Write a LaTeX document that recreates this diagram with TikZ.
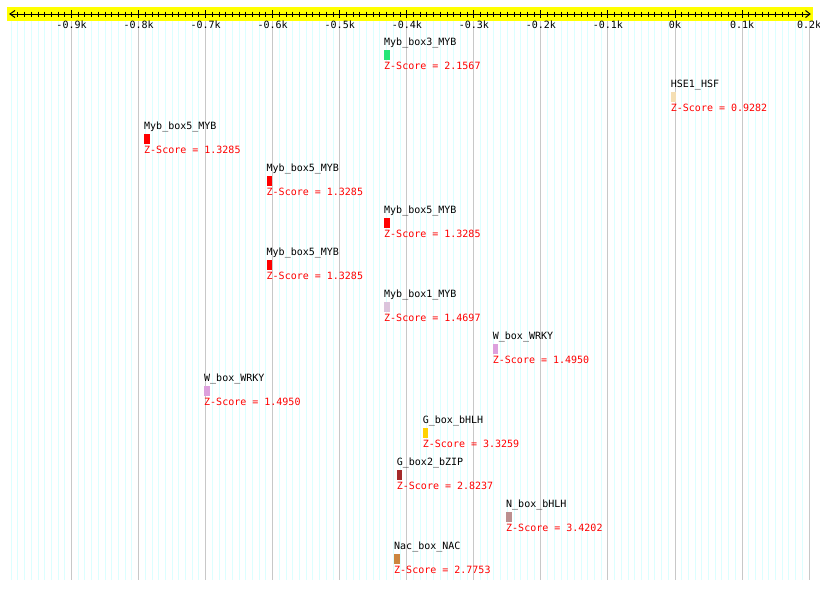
\documentclass[tikz,border=0pt]{standalone}
\usepackage{fontspec}
\setmonofont{DejaVu Sans Mono}
\definecolor{rulerYellow}{HTML}{FFFF00}
\definecolor{gridCyan}{HTML}{DCFFFF}
\definecolor{gridGray}{HTML}{C8C8C8}
\definecolor{zRed}{HTML}{FF0000}
\definecolor{cMybThree}{HTML}{28E678}
\definecolor{cHSE}{HTML}{F5DEB3}
\definecolor{cMybFive}{HTML}{FF0000}
\definecolor{cMybOne}{HTML}{DCC4DC}
\definecolor{cWbox}{HTML}{DDA0DD}
\definecolor{cGbox}{HTML}{FFD200}
\definecolor{cGboxTwo}{HTML}{A52A2A}
\definecolor{cNbox}{HTML}{BC8F8F}
\definecolor{cNac}{HTML}{CD853F}
\newcommand\motifRow[5]{%
  \node[lbl] (n#2) at (#1,{45.5+42*#2}) {#3};
  \node[motifbar, fill=#4] (b#2) at (#1,{50+42*#2}) {};
  \node[zs] (z#2) at (#1,{69.5+42*#2}) {Z-Score = #5};
}
\begin{document}
\begin{tikzpicture}[x=1pt,y=-1pt,
  lbl/.style={anchor=base west, inner sep=0pt, font=\ttfamily\fontsize{10}{12}\selectfont},
  zs/.style={lbl, text=zRed},
  motifbar/.style={anchor=north west, inner sep=0pt, minimum width=5.5pt, minimum height=10pt, draw=none},
  ticklbl/.style={anchor=base, inner sep=0pt, font=\ttfamily\fontsize{10}{12}\selectfont},
  cyanline/.style={draw=gridCyan, line width=1pt},
  grayline/.style={draw=gridGray, line width=1pt},
  rulerline/.style={draw=black, line width=1pt}]
\useasboundingbox (0,0) rectangle (820,589);
% grid
\foreach \v in {-990,-980,...,190}
  \draw[cyanline] ({675+0.6705*\v},21) -- ({675+0.6705*\v},580);
\foreach \v in {-900,-800,...,200}
  \draw[grayline] ({675+0.6705*\v},21) -- ({675+0.6705*\v},580);
% ruler
\fill[rulerYellow] (7,7) rectangle (813,21);
\coordinate (rl) at (10,14);
\coordinate (rr) at (810,14);
\draw[rulerline] (rl) -- (rr);
\draw[rulerline] (15,10.5) -- (rl) -- (15,17.5);
\draw[rulerline] (805.5,10.5) -- (rr) -- (805.5,17.5);
\foreach \v in {-980,-970,...,190}
  \draw[rulerline] ({675+0.6705*\v},11.5) -- ({675+0.6705*\v},16.5);
\foreach \v in {-900,-800,...,100}
  \draw[rulerline] ({675+0.6705*\v},10) -- ({675+0.6705*\v},18);
\foreach \v/\t [count=\i] in {-900/-0.9k,-800/-0.8k,-700/-0.7k,-600/-0.6k,-500/-0.5k,-400/-0.4k,-300/-0.3k,-200/-0.2k,-100/-0.1k,0/0k,100/0.1k,200/0.2k}
  \node[ticklbl] (t\i) at ({675+0.6705*\v},28) {\t};
% motifs
\motifRow{384}{0}{Myb\_box3\_MYB}{cMybThree}{2.1567}
\motifRow{670.7}{1}{HSE1\_HSF}{cHSE}{0.9282}
\motifRow{144}{2}{Myb\_box5\_MYB}{cMybFive}{1.3285}
\motifRow{266.5}{3}{Myb\_box5\_MYB}{cMybFive}{1.3285}
\motifRow{384}{4}{Myb\_box5\_MYB}{cMybFive}{1.3285}
\motifRow{266.5}{5}{Myb\_box5\_MYB}{cMybFive}{1.3285}
\motifRow{384}{6}{Myb\_box1\_MYB}{cMybOne}{1.4697}
\motifRow{492.7}{7}{W\_box\_WRKY}{cWbox}{1.4950}
\motifRow{204}{8}{W\_box\_WRKY}{cWbox}{1.4950}
\motifRow{422.7}{9}{G\_box\_bHLH}{cGbox}{3.3259}
\motifRow{396.7}{10}{G\_box2\_bZIP}{cGboxTwo}{2.8237}
\motifRow{506}{11}{N\_box\_bHLH}{cNbox}{3.4202}
\motifRow{394}{12}{Nac\_box\_NAC}{cNac}{2.7753}
\end{tikzpicture}
\end{document}
